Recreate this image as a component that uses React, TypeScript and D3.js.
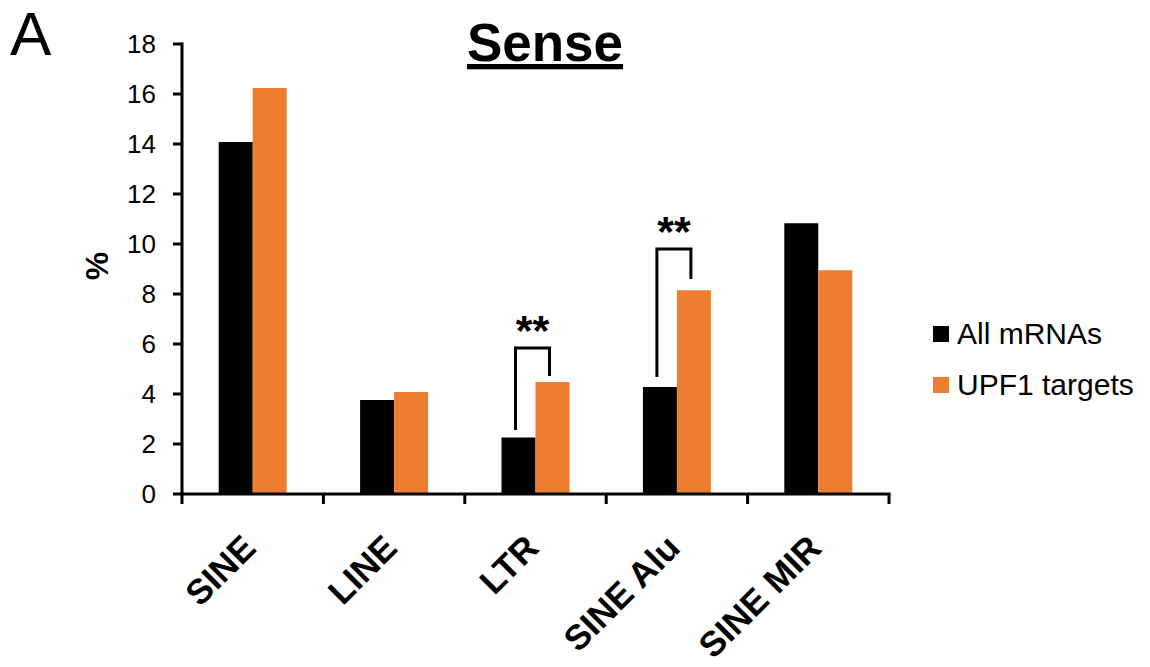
import React from "react";
import * as d3 from "d3";

const categories = ["SINE", "LINE", "LTR", "SINE Alu", "SINE MIR"];
const seriesNames = ["All mRNAs", "UPF1 targets"];
const allMRNAs = [14.08, 3.76, 2.26, 4.28, 10.83];
const upf1Targets = [16.24, 4.08, 4.48, 8.15, 8.95];
const yTicks = [0, 2, 4, 6, 8, 10, 12, 14, 16, 18];
const colors = ["#000000", "#ED7D31"];
// significance brackets: category, left bottom, top, right bottom
const sigCategories = ["LTR", "SINE Alu"];
const sigLeftBottom = [2.56, 4.68];
const sigTop = [5.84, 9.8];
const sigRightBottom = [4.72, 8.6];
const sigLabels = ["**", "**"];

const W = 1150;
const H = 667;
const FONT = "'Liberation Sans', Arial, sans-serif";

export default function App() {
  const x0 = d3.scaleBand<string>().domain(categories).range([182, 889]).padding(0);
  const bw = x0.bandwidth();
  const barW = 34;
  const x1 = d3
    .scaleBand<string>()
    .domain(seriesNames)
    .range([bw / 2 - barW, bw / 2 + barW])
    .padding(0);
  const y = d3.scaleLinear().domain([0, 18]).range([494, 44]);
  const values = [allMRNAs, upf1Targets];

  const boundaries = categories.map((c) => x0(c) as number).concat([889]);

  return (
    <svg width={W} height={H} style={{ position: "absolute", left: 0, top: 0, background: "#fff" }}>
      <rect x={0} y={0} width={W} height={H} fill="#fff" />
      {/* panel letter */}
      <text x={10} y={55} fontFamily={FONT} fontSize={62} fill="#000">
        A
      </text>
      {/* title */}
      <text
        x={545}
        y={61}
        fontFamily={FONT}
        fontSize={53}
        fontWeight="bold"
        textAnchor="middle"
        textDecoration="underline"
        fill="#000"
      >
        Sense
      </text>

      {/* bars */}
      {categories.map((c, i) => (
        <g key={c} transform={`translate(${x0(c)},0)`}>
          {seriesNames.map((s, j) => (
            <rect
              key={s}
              x={x1(s) as number}
              y={y(values[j][i])}
              width={x1.bandwidth()}
              height={y(0) - y(values[j][i])}
              fill={colors[j]}
            />
          ))}
        </g>
      ))}

      {/* y axis */}
      <line x1={182} x2={182} y1={y(18) - 1.5} y2={y(0) + 1.5} stroke="#000" strokeWidth={3} />
      {yTicks.map((t) => (
        <g key={t}>
          <line x1={173} x2={182} y1={y(t)} y2={y(t)} stroke="#000" strokeWidth={3} />
          <text
            x={156}
            y={y(t)}
            dy="0.36em"
            textAnchor="end"
            fontFamily={FONT}
            fontSize={26}
            fill="#000"
          >
            {t}
          </text>
        </g>
      ))}
      <text
        transform={`translate(108,266) rotate(-90)`}
        textAnchor="middle"
        fontFamily={FONT}
        fontSize={32}
        fontWeight="bold"
        fill="#000"
      >
        %
      </text>

      {/* x axis */}
      <line x1={180.5} x2={890.5} y1={y(0)} y2={y(0)} stroke="#000" strokeWidth={3} />
      {boundaries.map((b, i) => (
        <line key={i} x1={b} x2={b} y1={y(0)} y2={y(0) + 10} stroke="#000" strokeWidth={3} />
      ))}
      {categories.map((c) => {
        const cx = (x0(c) as number) + bw / 2 + 5;
        return (
          <text
            key={c}
            transform={`translate(${cx},550) rotate(-45)`}
            textAnchor="end"
            fontFamily={FONT}
            fontSize={35}
            fontWeight="bold"
            fill="#000"
          >
            {c}
          </text>
        );
      })}

      {/* significance brackets */}
      {sigCategories.map((c, k) => {
        const lx = (x0(c) as number) + (x1(seriesNames[0]) as number) + x1.bandwidth() / 2 - 3;
        const rx = (x0(c) as number) + (x1(seriesNames[1]) as number) + x1.bandwidth() / 2 - 3;
        const path = d3.path();
        path.moveTo(lx, y(sigLeftBottom[k]));
        path.lineTo(lx, y(sigTop[k]));
        path.lineTo(rx, y(sigTop[k]));
        path.lineTo(rx, y(sigRightBottom[k]));
        return (
          <g key={c}>
            <path d={path.toString()} fill="none" stroke="#000" strokeWidth={3} />
            <text
              x={(lx + rx) / 2}
              y={y(sigTop[k]) - 3}
              textAnchor="middle"
              fontFamily={FONT}
              fontSize={43}
              fontWeight="bold"
              fill="#000"
            >
              {sigLabels[k]}
            </text>
          </g>
        );
      })}

      {/* legend */}
      {seriesNames.map((s, j) => (
        <g key={s} transform={`translate(933,${326 + j * 51})`}>
          <rect x={0} y={0} width={16} height={16} fill={colors[j]} />
          <text x={24} y={18} fontFamily={FONT} fontSize={30} fill="#000">
            {s}
          </text>
        </g>
      ))}
    </svg>
  );
}
